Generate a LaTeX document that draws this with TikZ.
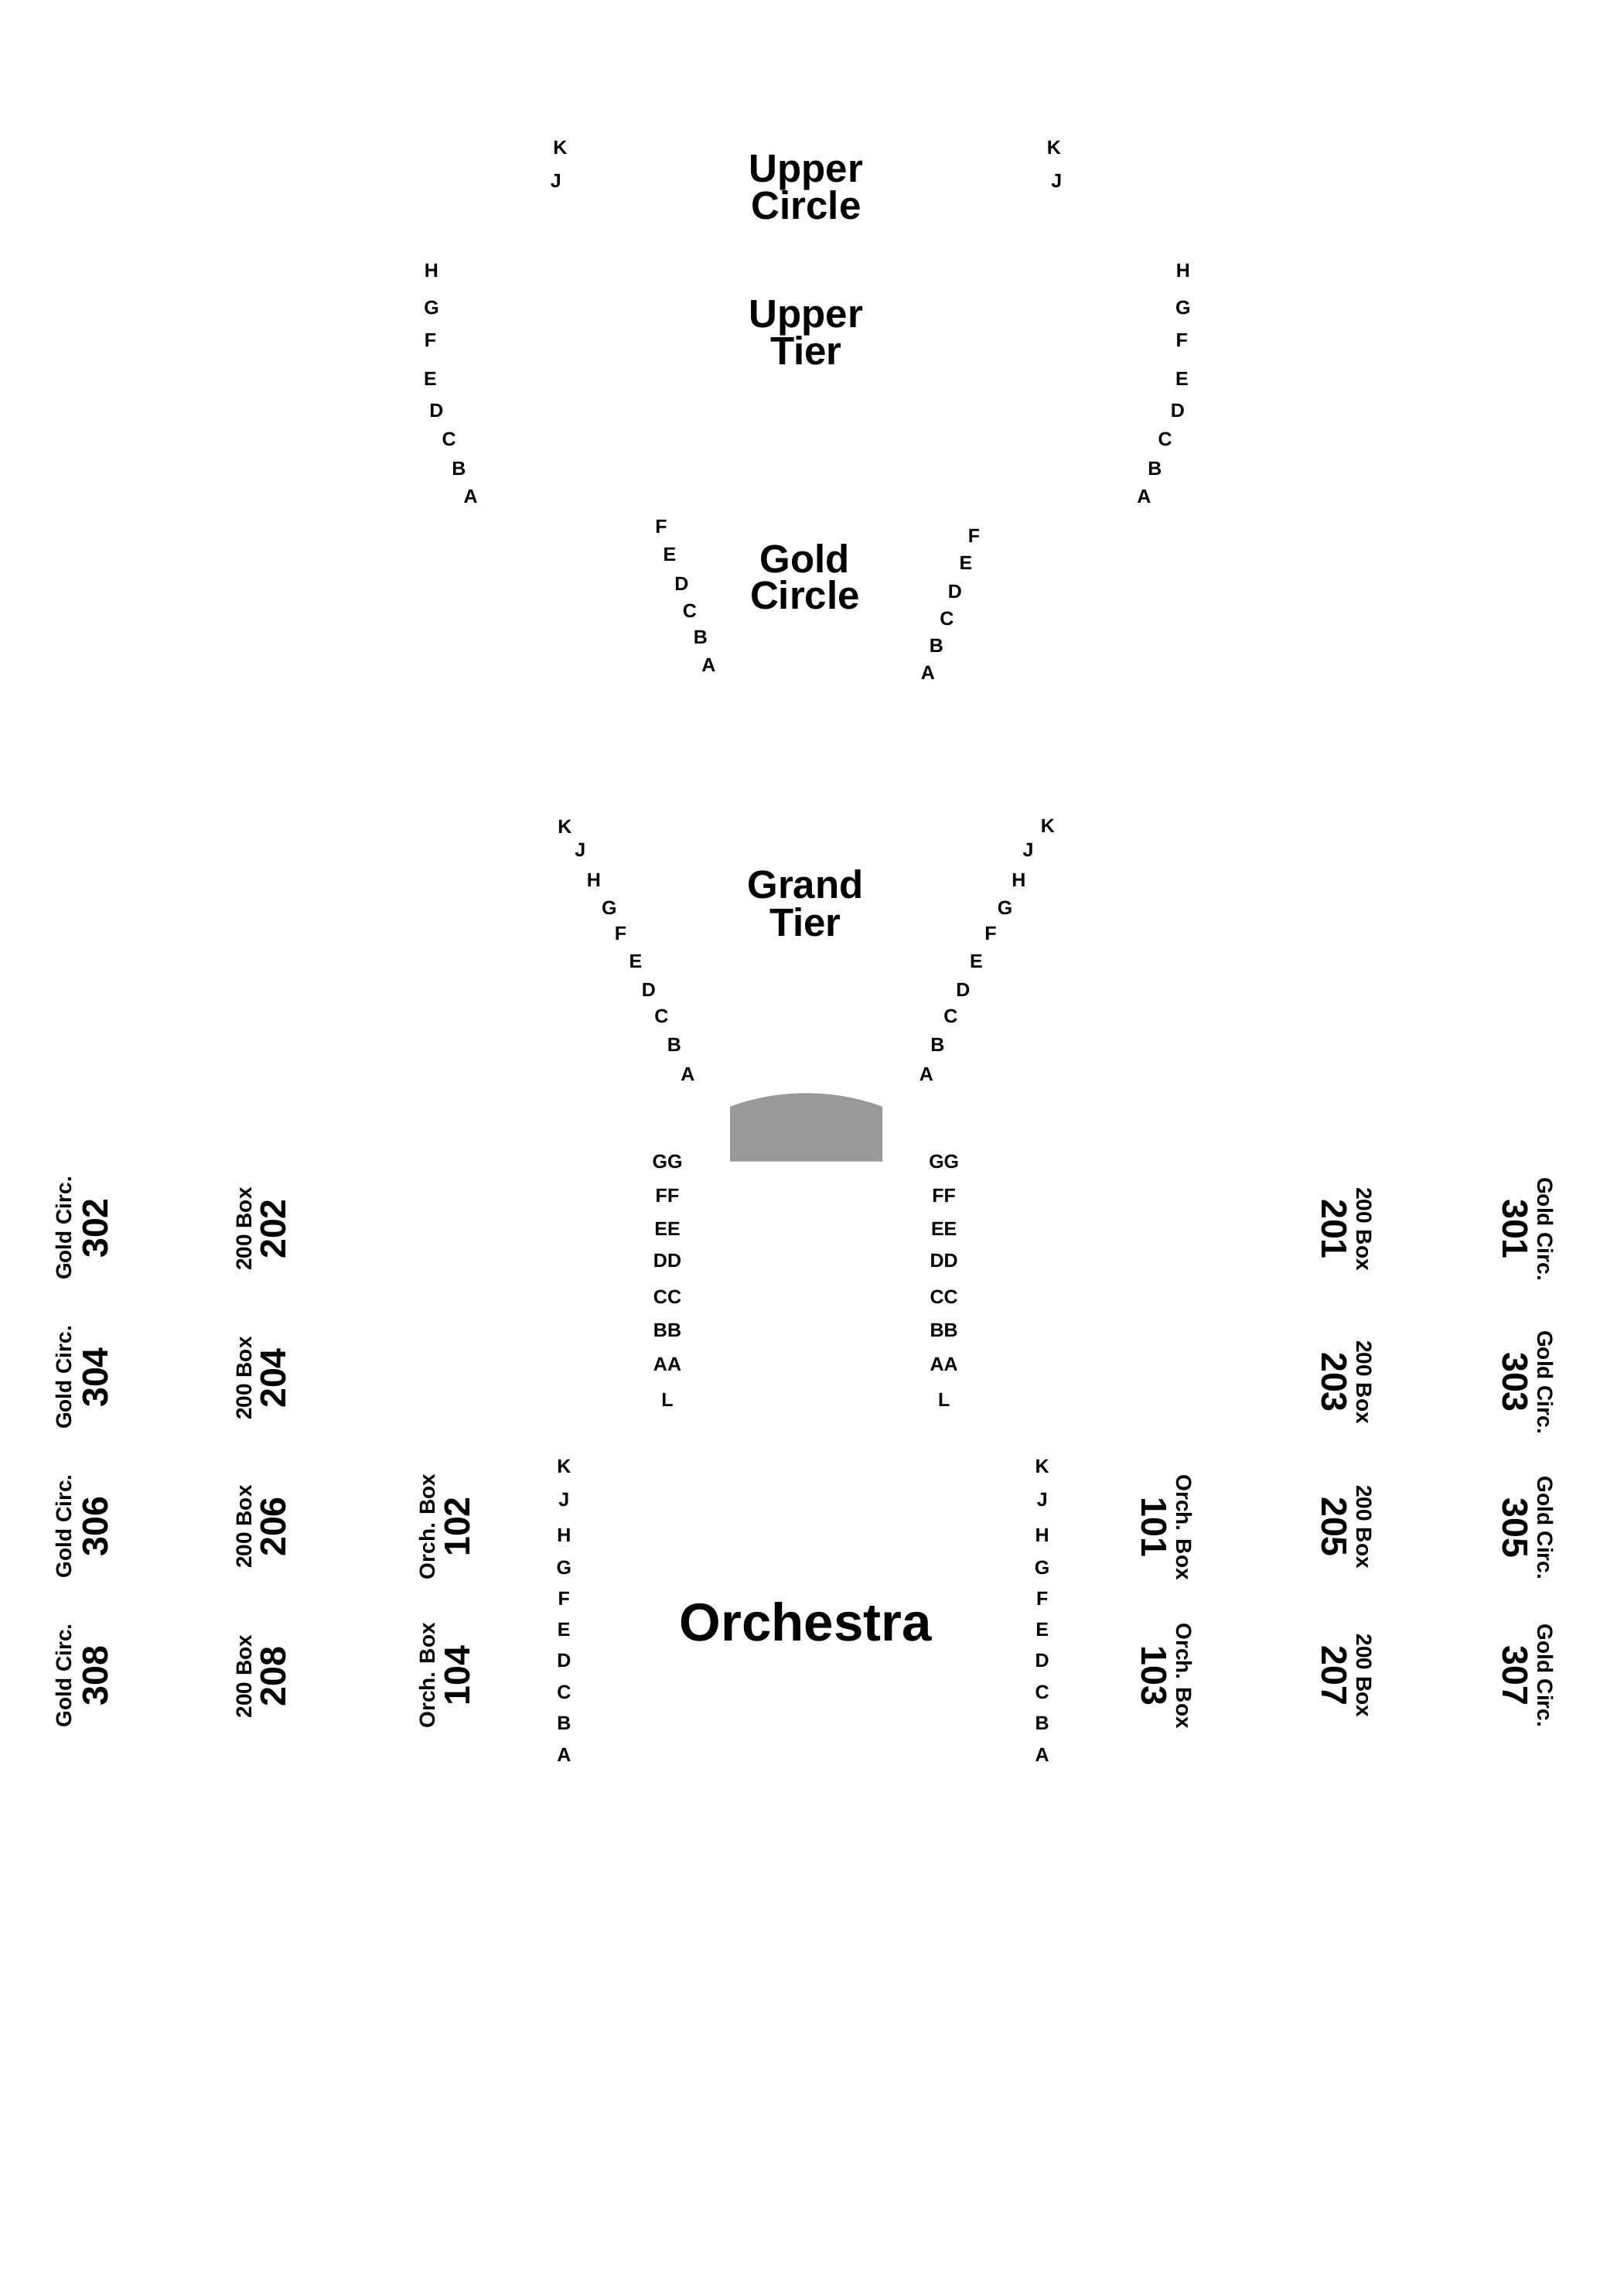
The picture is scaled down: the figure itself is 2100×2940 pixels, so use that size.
\documentclass[tikz,border=0pt]{standalone}
\usepackage{fontspec}
\setmainfont{Liberation Sans}
\definecolor{stagegray}{RGB}{153,153,153}
\begin{document}
\begin{tikzpicture}[x=1pt,y=-1pt,
  rowlbl/.style={font=\bfseries\fontsize{25}{30}\selectfont, inner sep=0pt, anchor=base, yshift=-8.8pt},
  biglbl/.style={font=\bfseries\fontsize{51}{48}\selectfont, inner sep=0pt, anchor=base},
  orchlbl/.style={font=\bfseries\fontsize{69}{72}\selectfont, inner sep=0pt, anchor=base},
  boxname/.style={font=\bfseries\fontsize{28}{32}\selectfont, inner sep=0pt, anchor=base},
  boxnum/.style={font=\bfseries\fontsize{46.5}{50}\selectfont, inner sep=0pt, anchor=base},
  lside/.style={rotate=90},
  rside/.style={rotate=-90}]
\fill[white] (0,0) rectangle (2100,2940);
\useasboundingbox (0,0) rectangle (2100,2940);

% section titles
\node[biglbl] (ucA) at (1042.5,235.7) {Upper};
\node[biglbl] (ucB) at (1042.5,283.3) {Circle};
\node[biglbl] (utA) at (1042.5,423.3) {Upper};
\node[biglbl] (utB) at (1042.5,471) {Tier};
\node[biglbl] (gcA) at (1041,740.7) {Gold};
\node[biglbl] (gcB) at (1041,787.3) {Circle};
\node[biglbl] (gtA) at (1041.5,1161.7) {Grand};
\node[biglbl] (gtB) at (1041.5,1210) {Tier};
\node[orchlbl] (orch) at (1041.7,2121) {Orchestra};

% stage
\fill[stagegray] (944,1501.7) -- (944,1430.7)
  .. controls (1007.6,1407.5) and (1077.4,1407.5) .. (1141,1430.7)
  -- (1141,1501.7) -- cycle;

% Upper Circle rows
\foreach \t/\x/\y [count=\i] in {K/724.5/190.3, J/718.9/233.5}
  \node[rowlbl] (ucl\i) at (\x,\y) {\t};
\foreach \t/\x/\y [count=\i] in {K/1362.9/190.3, J/1366.4/233.5}
  \node[rowlbl] (ucr\i) at (\x,\y) {\t};

% Upper Tier rows
\foreach \t/\x/\y [count=\i] in {H/558/350, G/558/397.3, F/556.5/439.4, E/556.5/489.5,
  D/564.5/530.6, C/580.7/568.1, B/593.3/605.3, A/608.7/641.8}
  \node[rowlbl] (utl\i) at (\x,\y) {\t};
\foreach \t/\x/\y [count=\i] in {H/1529.8/350, G/1529.8/397.3, F/1528.2/439.4, E/1528.4/489.5,
  D/1522.8/530.6, C/1506.7/568.1, B/1493.3/605.3, A/1479.3/641.8}
  \node[rowlbl] (utr\i) at (\x,\y) {\t};

% Gold Circle rows
\foreach \t/\x/\y [count=\i] in {F/855/681, E/866/716.7, D/881.4/754.3, C/891.9/789.3,
  B/905.9/824, A/916.5/859.3}
  \node[rowlbl] (gcl\i) at (\x,\y) {\t};
\foreach \t/\x/\y [count=\i] in {F/1259.5/692.7, E/1249/727.3, D/1235/764.3, C/1224.4/799.3,
  B/1211/834.3, A/1199.9/869.3}
  \node[rowlbl] (gcr\i) at (\x,\y) {\t};

% Grand Tier rows
\foreach \t/\x/\y [count=\i] in {K/730.4/1068.3, J/750.4/1098.3, H/767.9/1137.3, G/787.9/1174,
  F/802.5/1206.7, E/821.9/1242.7, D/838.8/1279.3, C/855.4/1313.3, B/871.9/1350.7, A/889.3/1388.3}
  \node[rowlbl] (gtl\i) at (\x,\y) {\t};
\foreach \t/\x/\y [count=\i] in {K/1354.9/1067.3, J/1329.5/1098.3, H/1317.4/1137.3, G/1299.6/1174,
  F/1281/1206.7, E/1262.5/1242.7, D/1245.5/1279.3, C/1229.5/1313.3, B/1212.5/1350.7, A/1197.8/1388.3}
  \node[rowlbl] (gtr\i) at (\x,\y) {\t};

% Orchestra front rows
\foreach \t/\y [count=\i] in {GG/1501.7, FF/1545.7, EE/1588.3, DD/1630, CC/1676.7,
  BB/1720, AA/1764, L/1810}
  {\node[rowlbl] (ofl\i) at (863,\y) {\t};
   \node[rowlbl] (ofr\i) at (1220.7,\y) {\t};}

% Orchestra rows
\foreach \t/\y [count=\i] in {K/1895.7, J/1939, H/1985, G/2026.7, F/2066.7, E/2106.7,
  D/2146.7, C/2187.3, B/2227.3, A/2268.3}
  {\node[rowlbl] (orl\i) at (729.3,\y) {\t};
   \node[rowlbl] (orr\i) at (1347.7,\y) {\t};}

% left boxes
\foreach \n/\y in {302/1588, 304/1781, 306/1973.5, 308/2166.5}
  {\node[boxname,lside] (gcn\n) at (92.7,\y) {Gold Circ.};
   \node[boxnum,lside] (gcb\n) at (139,\y) {\n};}
\foreach \n/\y in {202/1589, 204/1782, 206/1974, 208/2167.5}
  {\node[boxname,lside] (bxn\n) at (325,\y) {200 Box};
   \node[boxnum,lside] (bxb\n) at (369.3,\y) {\n};}
\foreach \n/\y in {102/1974, 104/2166.3}
  {\node[boxname,lside] (obn\n) at (562.7,\y) {Orch. Box};
   \node[boxnum,lside] (obb\n) at (607.3,\y) {\n};}

% right boxes
\foreach \n/\y in {101/1974.5, 103/2166.5}
  {\node[boxname,rside] (obn\n) at (1521.7,\y) {Orch. Box};
   \node[boxnum,rside] (obb\n) at (1476,\y) {\n};}
\foreach \n/\y in {201/1589, 203/1787, 205/1974, 207/2166.3}
  {\node[boxname,rside] (bxn\n) at (1754,\y) {200 Box};
   \node[boxnum,rside] (bxb\n) at (1709.3,\y) {\n};}
\foreach \n/\y in {301/1589, 303/1787, 305/1975.3, 307/2166.3}
  {\node[boxname,rside] (gcn\n) at (1988.3,\y) {Gold Circ.};
   \node[boxnum,rside] (gcb\n) at (1943.3,\y) {\n};}
\end{tikzpicture}
\end{document}
